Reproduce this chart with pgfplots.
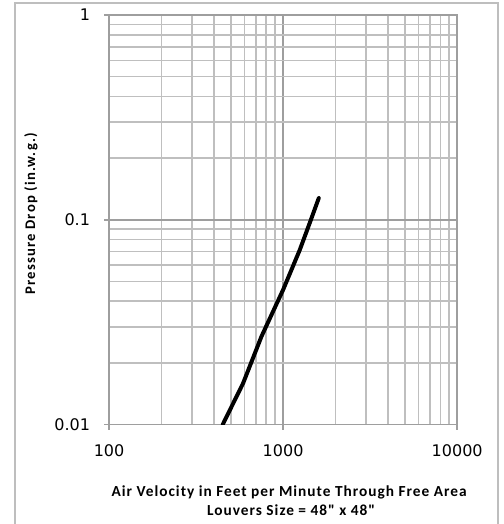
\documentclass[border=0pt]{standalone}
\usepackage{pgfplots}
\pgfplotsset{compat=1.18}
\usepackage{fontspec}
\setmainfont{Carlito}[Ligatures=TeXOff]
\newfontfamily\xlabfont{Carlito}[Ligatures=TeXOff, LetterSpace=6.5]
\newfontfamily\ylabfont{Carlito}[Ligatures=TeXOff, LetterSpace=8]
\newfontfamily\tickfont{DejaVu Sans}
\definecolor{framegray}{RGB}{190,190,190}
\begin{document}
\begin{tikzpicture}
\useasboundingbox (-81.75pt,-74.6pt) rectangle (295.5pt,318.25pt);
\draw[line width=1.1pt, framegray] (-70.5pt,-90pt) rectangle (291.75pt,316pt);
\begin{axis}[
  at={(0,0)}, anchor=south west,
  width=261pt, height=307pt, scale only axis,
  xmode=log, ymode=log,
  xmin=100, xmax=10000, ymin=0.01, ymax=1,
  xtick={100,1000,10000}, xticklabels={100,1000,10000},
  ytick={0.01,0.1,1}, yticklabels={0.01,0.1,1},
  grid=both,
  major grid style={draw=black!38, line width=1.2pt},
  minor grid style={draw=black!25, line width=1.2pt},
  axis line style={draw=black!38, line width=1.2pt},
  tick style={draw=black!38, line width=1.2pt},
  major tick length=3.75pt, minor tick length=0pt,
  tick align=outside,
  xtick pos=bottom, ytick pos=left,
  /pgf/number format/assume math mode=true,
  ticklabel style={font=\tickfont\fontsize{12}{14}\selectfont},
  xticklabel style={yshift=-8pt},
  yticklabel style={xshift=-7pt},
]
\addplot[black, line width=3pt, line join=round, line cap=round]
  coordinates {(450,0.0100)(589,0.0159)(751,0.0269)(1000,0.0455)(1247,0.0713)(1423,0.0966)(1603,0.1276)};
\end{axis}
\node[font=\xlabfont\bfseries\fontsize{11.5}{13}\selectfont] at (135pt,-50.6pt) {Air Velocity in Feet per Minute Through Free Area};
\node[font=\xlabfont\bfseries\fontsize{11.5}{13}\selectfont] at (136.5pt,-64pt) {Louvers Size = 48" x 48"};
\node[font=\ylabfont\bfseries\fontsize{11}{12}\selectfont, rotate=90] at (-58.5pt,158pt) {Pressure Drop (in.w.g.)};
\end{tikzpicture}
\end{document}
